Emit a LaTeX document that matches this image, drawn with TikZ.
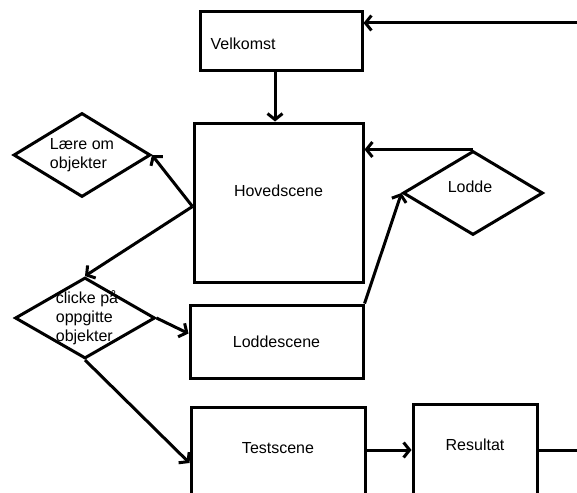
\documentclass[tikz,border=0pt]{standalone}
\usepackage{fontspec}
\setmainfont{Liberation Sans}
\usetikzlibrary{positioning,arrows.meta,shapes.geometric}
\tikzset{
  scene-box/.style={draw=black,line width=3pt,rectangle,inner sep=0pt},
  choice/.style={draw=black,line width=3pt,diamond,inner sep=0pt,aspect=1.6},
  label-text/.style={font=\fontsize{16}{19}\selectfont,align=left,inner sep=0pt},
  arrow/.style={-{Straight Barb[length=6pt,width=15pt]},line width=3pt},
  link/.style={line width=3pt},
}

\begin{document}
\begin{tikzpicture}[x=1pt,y=-1pt,every label/.append style={label-text}]
  \fill[white] (0,0) rectangle (577,492);
  \clip (0,0) rectangle (577,492);
  % scener
  \node[scene-box,minimum width=162pt,minimum height=59pt,
    label={[anchor=west,xshift=12pt,yshift=-2pt]west:Velkomst}] (velkomst) at (281,41.5) {};
  \node[scene-box,minimum width=169pt,minimum height=159pt,
    label={[yshift=12pt]center:Hovedscene}] (hoved) at (278.5,202.5) {};
  \node[scene-box,minimum width=173pt,minimum height=73pt,
    label={center:Loddescene}] (loddescene) at (276.5,341.5) {};
  \node[scene-box,minimum width=174pt,minimum height=112pt,
    label={[yshift=15pt]center:Testscene}] (test) at (278,463) {};
  \node[scene-box,minimum width=124pt,minimum height=118pt,
    label={[yshift=18pt]center:Resultat}] (resultat) at (475,463) {};
  % valg
  \node[choice,minimum width=137pt,minimum height=84pt,
    label={center:Lære om\\objekter}] (laere) at (82,155) {};
  \node[choice,minimum width=140pt,minimum height=81pt,
    label={[xshift=2pt]center:clicke på\\oppgitte\\objekter}] (clicke) at (85,318) {};
  \node[choice,minimum width=140pt,minimum height=84pt,
    label={[xshift=-3pt,yshift=6pt]center:Lodde}] (lodde) at (473,193) {};
  % piler
  \coordinate (inn) at (577,23);
  \coordinate (ut) at (577,450);
  \draw[arrow] (inn) -- (inn -| velkomst.east);
  \draw[arrow] ([xshift=-6pt]velkomst.south) -- ([xshift=-6pt]velkomst.south |- hoved.north);
  \draw[arrow] (lodde.north) -- (lodde.north -| hoved.east);
  \draw[arrow] (loddescene.north east) -- (lodde.west);
  \draw[arrow] ([yshift=-4pt]hoved.west) -- (laere.east);
  \draw[arrow] ([yshift=-4pt]hoved.west) -- (clicke.north);
  \draw[arrow] (clicke.east) -- ([yshift=8pt]loddescene.west);
  \draw[arrow] (clicke.south) -- (test.west);
  \draw[arrow] ([yshift=13pt]test.east) -- ([yshift=13pt]test.east -| resultat.west);
  \draw[link] (resultat.east |- ut) -- (ut);
\end{tikzpicture}
\end{document}
